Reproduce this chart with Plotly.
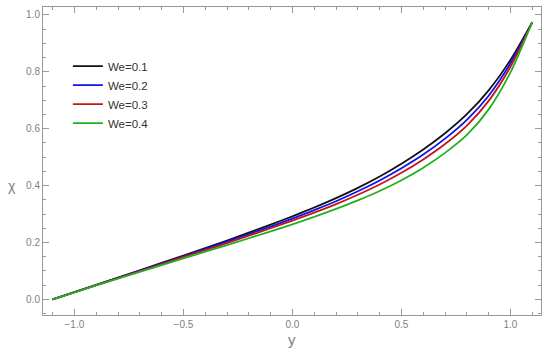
import plotly.graph_objects as go

y_vals = [-1.1, -0.9, -0.7, -0.5, -0.3, -0.1, 0.0, 0.1, 0.2, 0.3, 0.4, 0.5, 0.6, 0.7, 0.8, 0.9, 1.0, 1.1]

chi_we01 = [0.0, 0.051, 0.102, 0.154, 0.207, 0.263, 0.292, 0.323, 0.356, 0.392, 0.432, 0.477, 0.527, 0.584, 0.651, 0.735, 0.842, 0.975]
chi_we02 = [0.0, 0.050, 0.101, 0.151, 0.203, 0.256, 0.284, 0.314, 0.345, 0.380, 0.418, 0.461, 0.509, 0.565, 0.631, 0.716, 0.830, 0.975]
chi_we03 = [0.0, 0.050, 0.099, 0.149, 0.198, 0.250, 0.277, 0.305, 0.335, 0.368, 0.404, 0.445, 0.492, 0.546, 0.611, 0.698, 0.818, 0.975]
chi_we04 = [0.0, 0.049, 0.097, 0.144, 0.191, 0.239, 0.264, 0.290, 0.318, 0.348, 0.381, 0.419, 0.463, 0.515, 0.578, 0.668, 0.798, 0.975]

names = ['We=0.1', 'We=0.2', 'We=0.3', 'We=0.4']
colors = ['#111111', '#1010f0', '#c01818', '#22b022']

fig = go.Figure()
for name, vals, c in zip(names, [chi_we01, chi_we02, chi_we03, chi_we04], colors):
    fig.add_trace(go.Scatter(
        x=y_vals, y=vals, mode='lines', name=name,
        line=dict(color=c, width=1.8, shape='spline', smoothing=0.7),
    ))

axis_common = dict(
    showline=True, linecolor='#999999', linewidth=1, mirror='ticks',
    ticks='inside', tickcolor='#999999', ticklen=6, tickwidth=1,
    showgrid=False, zeroline=False, automargin=False,
    tickfont=dict(family='Liberation Sans, Arial', size=10, color='#808080'),
)

fig.update_xaxes(
    range=[-1.144, 1.14], dtick=0.5, tick0=0, tickformat='.1f',
    minor=dict(dtick=0.1, tick0=0, ticks='inside', ticklen=3, tickcolor='#999999'),
    **axis_common,
)
fig.update_yaxes(
    range=[-0.055, 1.028], dtick=0.2, tick0=0, tickformat='.1f',
    minor=dict(dtick=0.05, tick0=0, ticks='inside', ticklen=3, tickcolor='#999999'),
    **axis_common,
)

title_font = dict(family='Liberation Sans, Arial', size=15, color='#808080')
fig.add_annotation(text='y', x=0.5, xref='x domain', y=-0.045, yref='paper',
                   yanchor='top', showarrow=False, font=title_font)
fig.add_annotation(text='χ', x=-0.05, xref='paper', y=0.42, yref='paper',
                   xanchor='right', showarrow=False, font=dict(title_font, size=14))

fig.update_layout(
    width=550, height=355,
    margin=dict(l=43, r=9, t=7, b=40),
    plot_bgcolor='white', paper_bgcolor='white',
    showlegend=True,
    legend=dict(
        x=0.05, y=0.855, xanchor='left', yanchor='top',
        bgcolor='rgba(0,0,0,0)',
        font=dict(family='Liberation Sans, Arial', size=11.5, color='#333333'),
        tracegroupgap=0,
    ),
)

fig.write_html("out.html", config={'displayModeBar': False},
               post_script="document.body.style.margin='0px';")
